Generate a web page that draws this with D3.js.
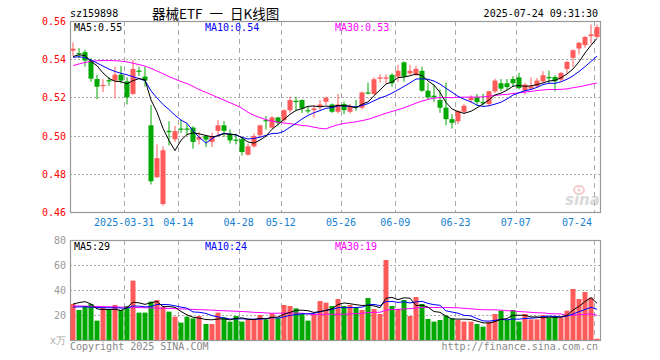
<!DOCTYPE html>
<html><head><meta charset="utf-8">
<script src="https://cdn.jsdelivr.net/npm/d3@7/dist/d3.min.js"></script>
<style>
body{margin:0;background:#fff}
svg{display:block}
text{font-family:"DejaVu Sans Mono",monospace;font-size:10px}
</style>
</head><body>
<svg id="c" width="660" height="360"></svg>
<script>
const dates = [
"2025-03-18","2025-03-19","2025-03-20","2025-03-21","2025-03-24","2025-03-25","2025-03-26","2025-03-27","2025-03-28","2025-03-31",
"2025-04-01","2025-04-02","2025-04-03","2025-04-07","2025-04-08","2025-04-09","2025-04-10","2025-04-11","2025-04-14",
"2025-04-15","2025-04-16","2025-04-17","2025-04-18","2025-04-21","2025-04-22","2025-04-23","2025-04-24","2025-04-25","2025-04-28",
"2025-04-29","2025-04-30","2025-05-06","2025-05-07","2025-05-08","2025-05-09","2025-05-12",
"2025-05-13","2025-05-14","2025-05-15","2025-05-16","2025-05-19","2025-05-20","2025-05-21","2025-05-22","2025-05-23","2025-05-26",
"2025-05-27","2025-05-28","2025-05-29","2025-05-30","2025-06-03","2025-06-04","2025-06-05","2025-06-06","2025-06-09",
"2025-06-10","2025-06-11","2025-06-12","2025-06-13","2025-06-16","2025-06-17","2025-06-18","2025-06-19","2025-06-20","2025-06-23",
"2025-06-24","2025-06-25","2025-06-26","2025-06-27","2025-06-30","2025-07-01","2025-07-02","2025-07-03","2025-07-04","2025-07-07",
"2025-07-08","2025-07-09","2025-07-10","2025-07-11","2025-07-14","2025-07-15","2025-07-16","2025-07-17","2025-07-18","2025-07-21","2025-07-22","2025-07-23","2025-07-24"];

const opens = [0.5445,0.5432,0.5437,0.5393,0.5296,0.5259,0.5290,0.5288,0.5319,0.5284,
0.5218,0.5340,0.5309,0.5054,0.4782,0.4642,0.5025,0.4981,0.5037,0.5037,
0.5042,0.4979,0.4998,0.4967,0.5025,0.5054,0.5011,0.4979,0.4981,0.4900,
0.4944,0.5002,0.5081,0.5042,0.5095,0.5081,0.5133,0.5182,0.5186,0.5133,
0.5133,0.5151,0.5177,0.5163,0.5125,0.5165,0.5125,0.5154,0.5146,0.5226,
0.5218,0.5298,0.5298,0.5318,0.5309,0.5384,0.5326,0.5321,0.5339,0.5235,
0.5209,0.5186,0.5146,0.5086,0.5075,0.5125,0.5186,0.5200,0.5175,0.5165,
0.5232,0.5274,0.5274,0.5296,0.5305,0.5235,0.5246,0.5258,0.5284,0.5307,
0.5307,0.5293,0.5349,0.5407,0.5456,0.5474,0.5521,0.5516];
const highs = [0.5488,0.5458,0.5449,0.5405,0.5318,0.5295,0.5305,0.5361,0.5365,0.5305,
0.5396,0.5361,0.5361,0.5160,0.4954,0.4944,0.5075,0.5051,0.5084,0.5063,
0.5049,0.5019,0.5002,0.5016,0.5081,0.5075,0.5032,0.5007,0.4993,0.4958,
0.5011,0.5056,0.5102,0.5102,0.5098,0.5137,0.5204,0.5204,0.5189,0.5151,
0.5160,0.5186,0.5204,0.5168,0.5218,0.5177,0.5165,0.5186,0.5230,0.5277,
0.5305,0.5321,0.5321,0.5326,0.5370,0.5388,0.5370,0.5365,0.5361,0.5274,
0.5268,0.5242,0.5277,0.5112,0.5133,0.5165,0.5211,0.5218,0.5218,0.5235,
0.5298,0.5296,0.5296,0.5311,0.5328,0.5275,0.5305,0.5302,0.5337,0.5340,
0.5316,0.5333,0.5389,0.5451,0.5491,0.5521,0.5582,0.5582];
const lows = [0.5418,0.5405,0.5361,0.5282,0.5191,0.5228,0.5261,0.5195,0.5274,0.5163,
0.5212,0.5312,0.5256,0.4744,0.4779,0.4633,0.4949,0.4967,0.5014,0.5002,
0.4932,0.4954,0.4940,0.4940,0.5002,0.4993,0.4958,0.4954,0.4896,0.4896,
0.4937,0.4993,0.5032,0.5037,0.5054,0.5072,0.5119,0.5130,0.5119,0.5116,
0.5095,0.5133,0.5160,0.5119,0.5116,0.5112,0.5116,0.5130,0.5137,0.5216,
0.5212,0.5277,0.5274,0.5256,0.5282,0.5282,0.5318,0.5312,0.5230,0.5189,
0.5177,0.5119,0.5054,0.5037,0.5060,0.5112,0.5170,0.5158,0.5158,0.5158,
0.5223,0.5232,0.5240,0.5258,0.5242,0.5214,0.5240,0.5249,0.5275,0.5275,
0.5232,0.5284,0.5328,0.5358,0.5425,0.5460,0.5481,0.5512];
const closes = [0.5455,0.5428,0.5393,0.5298,0.5256,0.5265,0.5284,0.5319,0.5288,0.5200,
0.5349,0.5335,0.5288,0.4761,0.4882,0.4923,0.5018,0.5023,0.5032,0.5032,
0.4967,0.4993,0.4979,0.4998,0.5054,0.5025,0.4975,0.4974,0.4914,0.4944,
0.4998,0.5054,0.5075,0.5095,0.5067,0.5133,0.5186,0.5177,0.5142,0.5128,
0.5142,0.5163,0.5198,0.5125,0.5163,0.5133,0.5154,0.5147,0.5226,0.5221,
0.5295,0.5305,0.5305,0.5274,0.5339,0.5309,0.5339,0.5349,0.5235,0.5200,
0.5200,0.5146,0.5086,0.5067,0.5128,0.5156,0.5200,0.5175,0.5170,0.5232,
0.5288,0.5246,0.5254,0.5274,0.5249,0.5267,0.5258,0.5288,0.5316,0.5300,
0.5284,0.5328,0.5386,0.5447,0.5486,0.5516,0.5530,0.5568];
// volume, unit: 万手
const volumes = [28.8,24,27.2,28.8,15.5,26.1,24.5,28,24,27.2,
47.5,21.9,21.9,30.7,32,26.7,22.7,18.7,13.9,18.7,
17.3,19.2,12.8,12.8,21.9,18.1,14.7,19.2,14.7,16.5,
16.5,20,16.5,21.3,17.3,28,27.2,25.3,21.3,15.5,
20.8,31.2,29.9,27.2,32.8,27.2,28,26.1,24,33.6,
24.8,20.8,64,27.2,24.8,32,19.2,34.4,28.8,16.8,
14.7,16,19.5,17.3,16,14.7,14.7,12.8,10.7,14.7,
20.8,23.5,16,24,14.7,20.8,16.5,16.5,20,18.1,
19.2,18.1,23.5,40.8,32.8,38.4,33.9,1];

const ma5Start = [0.5414,0.5423,0.5419,0.5388];
const ma10Start = [0.5410,0.5413,0.5408,0.5396,0.5380,0.5364,0.5348,0.5336,0.5326];
const ma30Start = [0.5367,0.5375,0.5383,0.5389,0.5392,0.5393,0.5393,0.5392,0.5390,0.5386,
0.5379,0.5372,0.5364,0.5352,0.5338,0.5324,0.5309,0.5296,0.5283,0.5272,
0.5258,0.5241,0.5226,0.5213,0.5199,0.5186,0.5172,0.5159,0.5143];
const vma5Start = [28.8,29.9,30.7,28.8];
const vma10Start = [26.3,26.5,26.5,26.3,26.0,25.8,25.8,25.8,25.6];
const vma30Start = [27.2,27.2,27.1,27.0,26.9,26.7,26.6,26.5,26.3,26.2,26.1,25.9,25.8,25.7,25.5,25.4,25.2,25.1,24.9,24.7,24.5,24.3,24.1,23.9,23.6,23.4,23.2,23.0,22.8];

const priceTicks = [0.56,0.54,0.52,0.50,0.48,0.46];
const volTicks = [80,60,40,20];
const tickDates = ["2025-03-31","2025-04-14","2025-04-28","2025-05-12","2025-05-26","2025-06-09","2025-06-23","2025-07-07","2025-07-24"];
const tickLabels = ["2025-03-31","04-14","04-28","05-12","05-26","06-09","06-23","07-07","07-24"];
const titleParts = ["器械ETF","一","日K线图"];

const UP = "#ff5a5a", DOWN = "#00a800", C5 = "#000000", C10 = "#0000ff", C30 = "#ff00ff";
const GRID = "#aaaaaa", BORDER = "#999999";

function movingAvg(vals, n, start){
  return vals.map((v,i)=> i < n-1 ? start[i] : d3.mean(vals.slice(i-n+1, i+1)));
}
const ma5 = movingAvg(closes,5,ma5Start), ma10 = movingAvg(closes,10,ma10Start), ma30 = movingAvg(closes,30,ma30Start);
const vma5 = movingAvg(volumes,5,vma5Start), vma10 = movingAvg(volumes,10,vma10Start), vma30 = movingAvg(volumes,30,vma30Start);

const svg = d3.select("#c");
const L = 70, R = 600, PT = 21, PB = 212, VT = 240, VB = 340;
const x = d3.scaleBand().domain(dates).range([L, R]);
const step = x.step();
const y = d3.scaleLinear().domain([0.46,0.56]).range([PB, PT]);
const yv = d3.scaleLinear().domain([0,80]).range([VB, VT]);
const cx = d => Math.round(x(d) + step/2) - 0.5;
const bw = 5;

// header
svg.append("text").attr("x",70).attr("y",17).text("sz159898");
const tt = svg.append("text").attr("x",152).attr("y",19)
  .style("font-family",'"Noto Sans CJK SC",sans-serif').style("font-size","13.5px");
titleParts.forEach((p,i)=> tt.append("tspan").attr("dx", i===0?0:7).text(p));
svg.append("text").attr("x",598).attr("y",17).attr("text-anchor","end").text("2025-07-24 09:31:30");

// grids
function panel(top, bottom, hvals, yy){
  const g = svg.append("g");
  g.selectAll(".h").data(hvals).join("line")
    .attr("x1",L).attr("x2",R).attr("y1",d=>Math.round(yy(d))+0.5).attr("y2",d=>Math.round(yy(d))+0.5)
    .attr("stroke",GRID).attr("stroke-dasharray","2,2");
  g.selectAll(".v").data(tickDates).join("line")
    .attr("x1",d=>Math.round(x(d))+0.5).attr("x2",d=>Math.round(x(d))+0.5).attr("y1",top).attr("y2",bottom)
    .attr("stroke",GRID).attr("stroke-dasharray","5,4");
  g.append("rect").attr("x",L+0.5).attr("y",top+0.5).attr("width",R-L).attr("height",bottom-top)
    .attr("fill","none").attr("stroke",BORDER).attr("stroke-width",1.2);
}
panel(PT, PB, [0.54,0.52,0.50,0.48], y);
panel(VT, VB, [60,40,20], yv);

// price axis labels
svg.selectAll(".pl").data(priceTicks).join("text").attr("x",66).attr("y",d=>y(d)+4)
  .attr("text-anchor","end").attr("fill","#ff0000").text(d=>d.toFixed(2));
// volume axis labels
svg.selectAll(".vl").data(volTicks).join("text").attr("x",66).attr("y",d=>yv(d)+4)
  .attr("text-anchor","end").attr("fill","#999999").text(d=>d);
svg.append("text").attr("x",66).attr("y",344).attr("text-anchor","end").attr("fill","#aaaaaa").text("x万");

// date labels
svg.selectAll(".dl").data(tickDates).join("text")
  .attr("x",(d,i)=> i===tickDates.length-1 ? Math.round(x(d))-2 : x(d))
  .attr("y",226).attr("text-anchor",(d,i)=> i===tickDates.length-1 ? "end" : "middle")
  .attr("fill","#1580d0").text((d,i)=>tickLabels[i]);

// watermark
const wm = svg.append("g").attr("opacity",0.55);
wm.append("ellipse").attr("cx",579).attr("cy",190).attr("rx",5).attr("ry",4).attr("fill","none").attr("stroke","#f0a0a0").attr("stroke-width",2);
wm.append("circle").attr("cx",579).attr("cy",190).attr("r",1.6).attr("fill","#f0a0a0");
wm.append("text").attr("x",565).attr("y",205).style("font-family","DejaVu Sans").style("font-size","15px")
  .style("font-style","italic").style("font-weight","bold").attr("fill","#bbbbbb").text("sina");

// candles
const idx = d3.range(dates.length);
const cg = svg.append("g");
cg.selectAll("line").data(idx).join("line")
  .attr("x1",i=>cx(dates[i])+0.5).attr("x2",i=>cx(dates[i])+0.5)
  .attr("y1",i=>y(highs[i])).attr("y2",i=>y(lows[i]))
  .attr("stroke",i=>closes[i]>=opens[i]?UP:DOWN).attr("stroke-width",1);
cg.selectAll("rect").data(idx).join("rect")
  .attr("x",i=>cx(dates[i])+0.5-bw/2).attr("width",bw)
  .attr("y",i=>y(Math.max(opens[i],closes[i])))
  .attr("height",i=>Math.max(1.2, Math.abs(y(opens[i])-y(closes[i]))))
  .attr("fill",i=>closes[i]>=opens[i]?UP:DOWN);

// volume bars
svg.append("g").selectAll("rect").data(idx).join("rect")
  .attr("x",i=>cx(dates[i])+0.5-bw/2).attr("width",bw)
  .attr("y",i=>yv(volumes[i])).attr("height",i=>VB-yv(volumes[i]))
  .attr("fill",i=>closes[i]>=opens[i]?UP:DOWN);

// MA lines
function drawLine(vals, yy, color){
  svg.append("path").datum(vals)
    .attr("d", d3.line().x((d,i)=>cx(dates[i])+0.5).y(d=>yy(d)))
    .attr("fill","none").attr("stroke",color).attr("stroke-width",1);
}
drawLine(ma30,y,C30); drawLine(ma10,y,C10); drawLine(ma5,y,C5);
drawLine(vma30,yv,C30); drawLine(vma10,yv,C10); drawLine(vma5,yv,C5);

// MA legends
const last = a => a[a.length-1];
svg.append("text").attr("x",74).attr("y",31).attr("fill",C5).text("MA5:"+last(ma5).toFixed(2));
svg.append("text").attr("x",205).attr("y",31).attr("fill",C10).text("MA10:"+last(ma10).toFixed(2));
svg.append("text").attr("x",335).attr("y",31).attr("fill",C30).text("MA30:"+last(ma30).toFixed(2));
svg.append("text").attr("x",74).attr("y",250).attr("fill",C5).text("MA5:"+Math.floor(last(vma5)));
svg.append("text").attr("x",205).attr("y",250).attr("fill",C10).text("MA10:"+Math.floor(last(vma10)));
svg.append("text").attr("x",335).attr("y",250).attr("fill",C30).text("MA30:"+Math.floor(last(vma30)));

// footer
svg.append("text").attr("x",70).attr("y",350).attr("fill","#888888").text("Copyright 2025 SINA.COM");
svg.append("text").attr("x",598).attr("y",350).attr("text-anchor","end").attr("fill","#888888").text("http://finance.sina.com.cn");
</script>
</body></html>
